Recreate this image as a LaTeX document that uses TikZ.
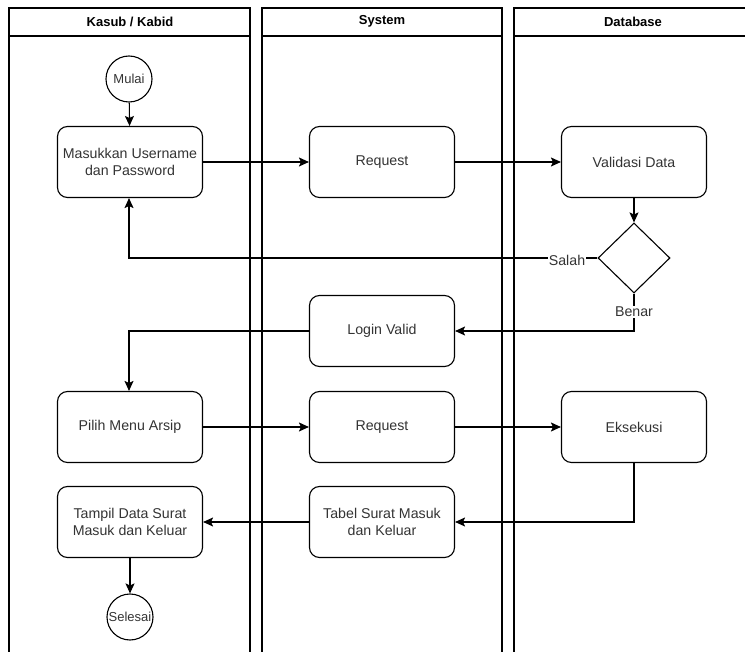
\documentclass[tikz,border=0pt]{standalone}
\usepackage{fontspec}
\setmainfont{Liberation Sans}
\usetikzlibrary{shapes.geometric,arrows.meta}

\tikzset{
  lane/.style={draw, line width=1.1pt},
  proc/.style={draw, rounded corners=10pt, minimum width=145pt, minimum height=71pt, align=center, line width=1.1pt, font=\fontsize{14.2}{17.5}\selectfont, text=black!80},
  term/.style={draw, circle, minimum size=46pt, inner sep=0pt, line width=1.1pt, font=\fontsize{13}{15}\selectfont, text=black!80},
  cond/.style={draw, diamond, minimum width=72pt, minimum height=70pt, inner sep=0pt, line width=1.1pt},
  flow/.style={line width=1.1pt, -{Stealth[length=10pt,width=9pt,inset=2pt]}},
  lbl/.style={fill=white, inner sep=1pt, font=\fontsize{14.2}{17}\selectfont, text=black!80},
  head/.style={font=\bfseries\fontsize{13}{15}\selectfont}
}

\begin{document}
\begin{tikzpicture}[x=1pt,y=-1pt]
\useasboundingbox (0,0) rectangle (745,652);

% swimlanes
\draw[lane] (9,652) -- (9,8) -- (250,8) -- (250,652);
\draw[lane] (9,36) -- (250,36);
\draw[lane] (262,652) -- (262,8) -- (502,8) -- (502,652);
\draw[lane] (262,36) -- (502,36);
\draw[lane] (514,652) -- (514,8) -- (752,8);
\draw[lane] (514,36) -- (752,36);
\node[head] (h1) at (130,21.5) {Kasub / Kabid};
\node[head] (h2) at (382,21.5) {System};
\node[head] (h3) at (633,21.5) {Database};

% nodes
\node[term] (mulai) at (129,79) {Mulai};
\node[proc] (login) at (130,162) {Masukkan Username\\dan Password};
\node[proc] (req1) at (382,162) {Request};
\node[proc] (valid) at (634,162) {Validasi Data};
\node[cond] (cek) at (634,258) {};
\node[proc] (ok) at (382,331) {Login Valid};
\node[proc] (menu) at (130,427) {Pilih Menu Arsip};
\node[proc] (req2) at (382,427) {Request};
\node[proc] (exec) at (634,427) {Eksekusi};
\node[proc] (tabel) at (382,522) {Tabel Surat Masuk\\dan Keluar};
\node[proc] (tampil) at (130,522) {Tampil Data Surat\\Masuk dan Keluar};
\node[term] (selesai) at (130,617) {Selesai};

% connectors
\draw[flow] (mulai) -- (login);
\draw[flow] (login) -- (req1);
\draw[flow] (req1) -- (valid);
\draw[flow] (valid) -- (cek);
\draw[flow] (cek.west) -- (129,258) -- (login.south -| 129,0);
\node[lbl] (salah) at (567,260) {Salah};
\draw[flow] (cek.south) -- (634,331) -- (ok.east);
\node[lbl] (benar) at (634,312) {Benar};
\draw[flow] (ok.west) -| (menu.north -| 129,0);
\draw[flow] (menu) -- (req2);
\draw[flow] (req2) -- (exec);
\draw[flow] (exec.south) |- (tabel.east);
\draw[flow] (tabel) -- (tampil);
\draw[flow] (tampil) -- (selesai);
\end{tikzpicture}
\end{document}
